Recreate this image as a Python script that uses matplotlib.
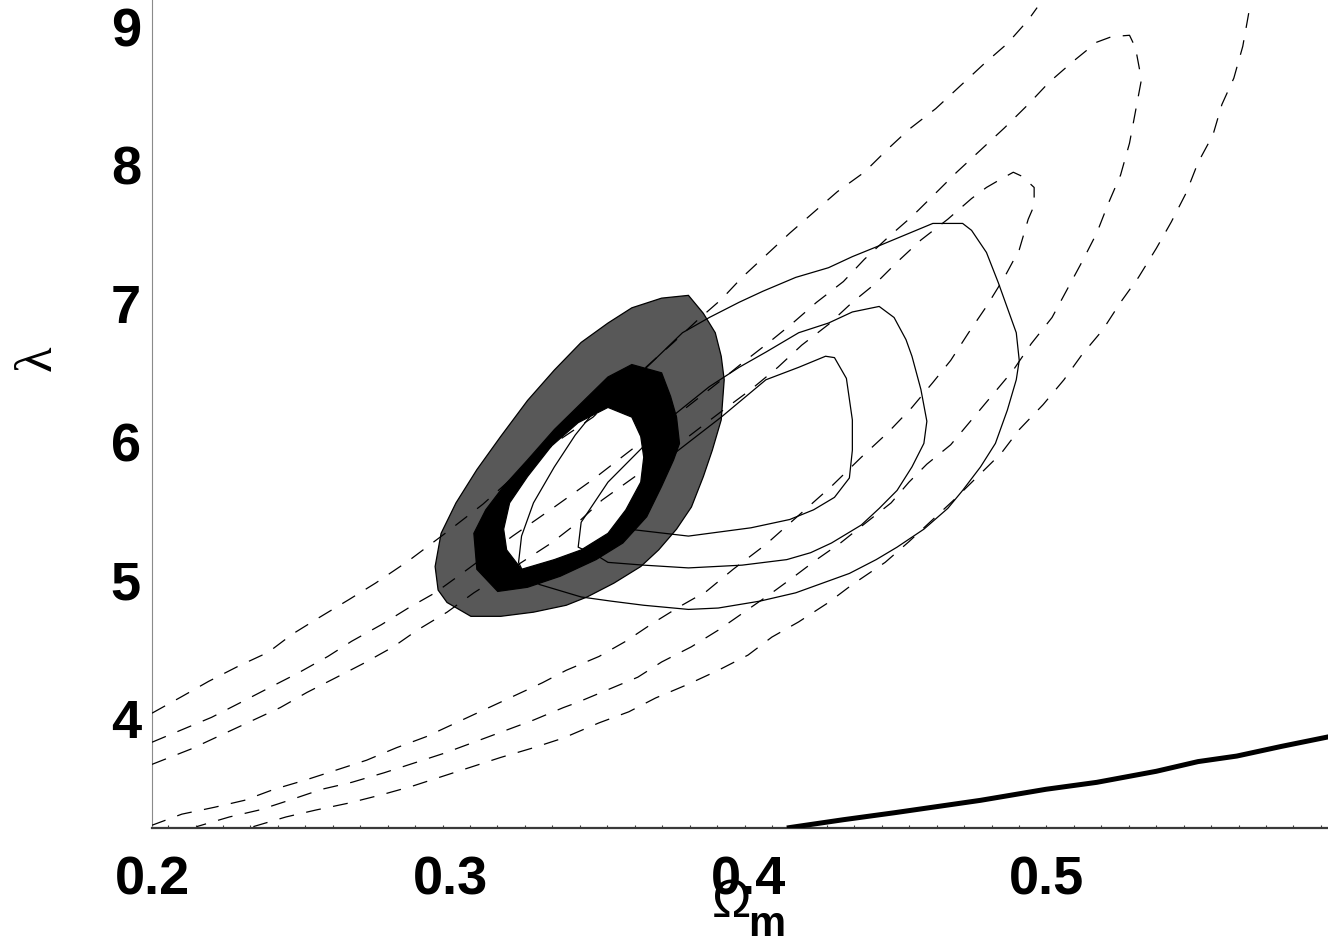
import numpy as np
import matplotlib
matplotlib.use("Agg")
import matplotlib.pyplot as plt

# confidence regions (filled): outer gray, middle black, inner hole
gray_om = [0.380, 0.385, 0.389, 0.391, 0.392, 0.391, 0.388, 0.385, 0.381, 0.376, 0.370, 0.364,
           0.355, 0.346, 0.339, 0.328, 0.317, 0.307, 0.299, 0.296, 0.295, 0.297, 0.302, 0.309,
           0.317, 0.326, 0.335, 0.344, 0.353, 0.361, 0.371]
gray_lam = [7.06, 6.93, 6.79, 6.62, 6.45, 6.16, 5.94, 5.75, 5.53, 5.37, 5.22, 5.10,
            4.98, 4.88, 4.82, 4.77, 4.74, 4.74, 4.84, 4.93, 5.10, 5.34, 5.56, 5.80,
            6.04, 6.30, 6.52, 6.72, 6.86, 6.97, 7.04]

black_om = [0.361, 0.371, 0.374, 0.376, 0.377, 0.375, 0.371, 0.366, 0.358, 0.349, 0.337,
            0.326, 0.316, 0.309, 0.308, 0.312, 0.318, 0.326, 0.335, 0.344, 0.353]
black_lam = [6.56, 6.50, 6.33, 6.18, 5.99, 5.87, 5.68, 5.46, 5.27, 5.15, 5.03,
             4.95, 4.92, 5.08, 5.34, 5.51, 5.68, 5.87, 6.09, 6.28, 6.47]

hole_om = [0.353, 0.361, 0.364, 0.365, 0.364, 0.359, 0.353, 0.344, 0.335, 0.324,
           0.319, 0.318, 0.320, 0.326, 0.334, 0.343]
hole_lam = [6.25, 6.18, 6.04, 5.89, 5.71, 5.51, 5.34, 5.22, 5.15, 5.08,
            5.22, 5.37, 5.56, 5.75, 5.97, 6.14]

# solid contours
s1_om = [0.348, 0.366, 0.378, 0.387, 0.397, 0.405, 0.416, 0.427, 0.435, 0.443, 0.462, 0.472,
         0.475, 0.480, 0.484, 0.486, 0.490, 0.491, 0.490, 0.487, 0.483, 0.478, 0.472, 0.467,
         0.459, 0.450, 0.443, 0.434, 0.416, 0.404, 0.390, 0.380, 0.365, 0.354, 0.344, 0.330,
         0.325, 0.323, 0.324, 0.328, 0.335, 0.342, 0.348]
s1_lam = [6.21, 6.54, 6.79, 6.90, 7.01, 7.09, 7.19, 7.26, 7.34, 7.41, 7.58, 7.58,
          7.53, 7.37, 7.15, 7.03, 6.79, 6.59, 6.45, 6.23, 5.99, 5.82, 5.65, 5.52,
          5.37, 5.24, 5.15, 5.05, 4.91, 4.85, 4.80, 4.79, 4.82, 4.85, 4.88, 4.97,
          5.04, 5.13, 5.32, 5.56, 5.82, 6.05, 6.21]

s2_om = [0.365, 0.376, 0.387, 0.397, 0.406, 0.417, 0.427, 0.435, 0.444, 0.449, 0.453, 0.455,
         0.458, 0.460, 0.459, 0.455, 0.450, 0.444, 0.438, 0.428, 0.421, 0.413, 0.398, 0.380,
         0.365, 0.353, 0.350, 0.343, 0.344, 0.353, 0.365]
s2_lam = [5.97, 6.21, 6.40, 6.54, 6.65, 6.79, 6.86, 6.94, 6.98, 6.90, 6.74, 6.62,
          6.38, 6.15, 5.99, 5.82, 5.65, 5.52, 5.40, 5.27, 5.20, 5.15, 5.11, 5.09,
          5.11, 5.13, 5.17, 5.24, 5.42, 5.71, 5.97]

s3_om = [0.360, 0.376, 0.391, 0.406, 0.417, 0.426, 0.429, 0.433, 0.435, 0.435, 0.434, 0.429,
         0.422, 0.414, 0.401, 0.380, 0.360]
s3_lam = [5.37, 5.93, 6.18, 6.45, 6.54, 6.62, 6.61, 6.46, 6.16, 5.94, 5.74, 5.60,
          5.51, 5.44, 5.38, 5.32, 5.37]

# dashed contours
d_out_a_om = [0.200, 0.210, 0.219, 0.229, 0.239, 0.247, 0.256, 0.266, 0.275, 0.286, 0.299,
              0.311, 0.323, 0.337, 0.348, 0.360, 0.375, 0.383, 0.391, 0.398, 0.406, 0.414,
              0.422, 0.430, 0.439, 0.447, 0.454, 0.463, 0.471, 0.479, 0.487, 0.494, 0.497]
d_out_a_lam = [4.04, 4.16, 4.27, 4.38, 4.48, 4.61, 4.73, 4.86, 4.98, 5.14, 5.35,
               5.55, 5.78, 6.02, 6.18, 6.43, 6.72, 6.88, 7.03, 7.19, 7.35, 7.51,
               7.66, 7.81, 7.95, 8.12, 8.26, 8.41, 8.57, 8.73, 8.88, 9.05, 9.14]

d_out_b_om = [0.568, 0.566, 0.563, 0.559, 0.556, 0.551, 0.547, 0.542, 0.537, 0.531, 0.525,
              0.519, 0.512, 0.506, 0.499, 0.491, 0.485, 0.477, 0.469, 0.461, 0.454, 0.446,
              0.435, 0.427, 0.417, 0.408, 0.400, 0.390, 0.380, 0.369, 0.360, 0.350, 0.338,
              0.328, 0.317, 0.307, 0.297, 0.287, 0.277, 0.266, 0.255, 0.245, 0.234]
d_out_b_lam = [9.10, 8.86, 8.63, 8.44, 8.22, 8.02, 7.80, 7.59, 7.40, 7.19, 7.01,
               6.81, 6.63, 6.45, 6.27, 6.09, 5.92, 5.75, 5.58, 5.42, 5.28, 5.13,
               4.97, 4.84, 4.70, 4.59, 4.46, 4.35, 4.25, 4.15, 4.05, 3.97, 3.86,
               3.79, 3.72, 3.65, 3.58, 3.51, 3.45, 3.39, 3.34, 3.29, 3.22]

d_mid_om = [0.200, 0.210, 0.220, 0.230, 0.239, 0.249, 0.259, 0.267, 0.277, 0.286, 0.295,
            0.304, 0.321, 0.335, 0.348, 0.360, 0.374, 0.390, 0.398, 0.407, 0.415, 0.423,
            0.432, 0.439, 0.447, 0.455, 0.463, 0.470, 0.478, 0.486, 0.494, 0.501, 0.509,
            0.517, 0.522, 0.528, 0.530, 0.532, 0.530, 0.528, 0.525, 0.521, 0.517, 0.512,
            0.507, 0.502, 0.495, 0.489, 0.482, 0.475, 0.468, 0.460, 0.454, 0.448, 0.438,
            0.431, 0.423, 0.415, 0.408, 0.400, 0.390, 0.381, 0.371, 0.363, 0.353, 0.343,
            0.338, 0.328, 0.318, 0.308, 0.298, 0.288, 0.278, 0.267, 0.257, 0.246, 0.236,
            0.226, 0.215]
d_mid_lam = [3.83, 3.92, 4.01, 4.12, 4.22, 4.33, 4.45, 4.56, 4.68, 4.80, 4.91,
             5.05, 5.32, 5.53, 5.73, 5.93, 6.16, 6.43, 6.57, 6.72, 6.86, 7.01,
             7.16, 7.32, 7.48, 7.63, 7.80, 7.95, 8.11, 8.27, 8.44, 8.60, 8.75,
             8.89, 8.93, 8.94, 8.85, 8.62, 8.39, 8.16, 7.93, 7.73, 7.51, 7.30,
             7.10, 6.90, 6.71, 6.52, 6.34, 6.16, 5.98, 5.84, 5.71, 5.56, 5.39,
             5.27, 5.15, 5.02, 4.91, 4.79, 4.64, 4.52, 4.41, 4.30, 4.21, 4.12,
             4.08, 3.99, 3.91, 3.83, 3.75, 3.68, 3.61, 3.54, 3.49, 3.41, 3.34,
             3.29, 3.22]

d_in_om = [0.200, 0.213, 0.223, 0.233, 0.243, 0.252, 0.262, 0.271, 0.281, 0.289, 0.299,
           0.308, 0.324, 0.334, 0.343, 0.351, 0.364, 0.377, 0.391, 0.401, 0.410, 0.418,
           0.427, 0.435, 0.443, 0.450, 0.458, 0.467, 0.475, 0.480, 0.484, 0.489, 0.492,
           0.496, 0.496, 0.494, 0.491, 0.486, 0.480, 0.474, 0.468, 0.462, 0.455, 0.447,
           0.438, 0.428, 0.417, 0.406, 0.395, 0.386, 0.377, 0.368, 0.359, 0.350, 0.339,
           0.331, 0.322, 0.312, 0.302, 0.292, 0.282, 0.272, 0.262, 0.252, 0.241, 0.231,
           0.221, 0.210, 0.200]
d_in_lam = [3.67, 3.78, 3.88, 3.98, 4.08, 4.19, 4.30, 4.40, 4.52, 4.64, 4.77,
            4.91, 5.13, 5.27, 5.42, 5.58, 5.78, 5.99, 6.22, 6.38, 6.54, 6.70,
            6.85, 7.01, 7.15, 7.30, 7.46, 7.61, 7.76, 7.84, 7.89, 7.95, 7.92,
            7.84, 7.71, 7.61, 7.39, 7.19, 6.98, 6.79, 6.59, 6.43, 6.25, 6.07,
            5.89, 5.68, 5.47, 5.26, 5.08, 4.92, 4.81, 4.69, 4.56, 4.45, 4.35,
            4.26, 4.17, 4.07, 3.97, 3.87, 3.79, 3.70, 3.63, 3.56, 3.49, 3.41,
            3.36, 3.31, 3.23]

# thick curve at the bottom right
thick_om = [0.413, 0.432, 0.449, 0.478, 0.500, 0.517, 0.537, 0.551, 0.564, 0.579, 0.595]
thick_lam = [3.21, 3.27, 3.32, 3.41, 3.49, 3.54, 3.62, 3.69, 3.73, 3.80, 3.87]

xticks = [0.2, 0.3, 0.4, 0.5]
xticklabels = ["0.2", "0.3", "0.4", "0.5"]
yticks = [4, 5, 6, 7, 8, 9]

plt.rcParams["font.family"] = ["Liberation Sans", "DejaVu Sans"]

fig = plt.figure(figsize=(13.28, 9.49), dpi=100)
ax = fig.add_axes([152/1328, 121/949, 1176/1328, 828/949])

ax.fill(gray_om, gray_lam, facecolor="#585858", edgecolor="black", lw=0.9, zorder=1)
ax.fill(black_om, black_lam, facecolor="black", edgecolor="black", lw=0.9, zorder=2)
ax.fill(hole_om, hole_lam, facecolor="white", edgecolor="black", lw=0.9, zorder=3)

for om, lam in [(s1_om, s1_lam), (s2_om, s2_lam), (s3_om, s3_lam)]:
    ax.plot(om, lam, color="black", lw=0.9, zorder=4)

for om, lam in [(d_out_a_om, d_out_a_lam), (d_out_b_om, d_out_b_lam),
                (d_mid_om, d_mid_lam), (d_in_om, d_in_lam)]:
    line, = ax.plot(om, lam, color="black", lw=0.9, zorder=4)
    line.set_dashes((12, 10))

ax.plot(thick_om, thick_lam, color="black", lw=3.6, solid_capstyle="butt",
        solid_joinstyle="round", zorder=5)

ax.set_xlim(0.2, 0.5946)
ax.set_ylim(3.21, 9.195)

ax.spines["top"].set_visible(False)
ax.spines["right"].set_visible(False)
ax.spines["left"].set_color("#8a8a8a")
ax.spines["left"].set_linewidth(0.8)
ax.spines["bottom"].set_color("#3a3a3a")
ax.spines["bottom"].set_linewidth(1.6)

ax.set_xticks(xticks)
ax.set_xticklabels(xticklabels)
ax.set_yticks(yticks)
ax.set_xticks(np.arange(0.2054, 0.5946, 0.00921), minor=True)
ax.tick_params(axis="both", which="major", length=0, labelsize=39)
ax.tick_params(axis="x", which="major", pad=20)
ax.tick_params(axis="y", which="major", pad=8)
ax.tick_params(axis="x", which="minor", direction="in", length=2.5, width=0.8, color="#3a3a3a")
for lab in ax.get_xticklabels() + ax.get_yticklabels():
    lab.set_fontweight("bold")

fig.text(731/1328, 1 - 903/949, "Ω", fontsize=38,
         ha="center", va="center")
fig.text(767/1328, 1 - 936/949, "m", fontsize=30, fontweight="bold",
         ha="center", va="baseline")
fig.text(38/1328, 1 - 358/949, "λ", fontsize=38, rotation=90,
         family=["Liberation Serif", "DejaVu Serif"], ha="center", va="center")

fig.savefig("out.png", dpi=100)
